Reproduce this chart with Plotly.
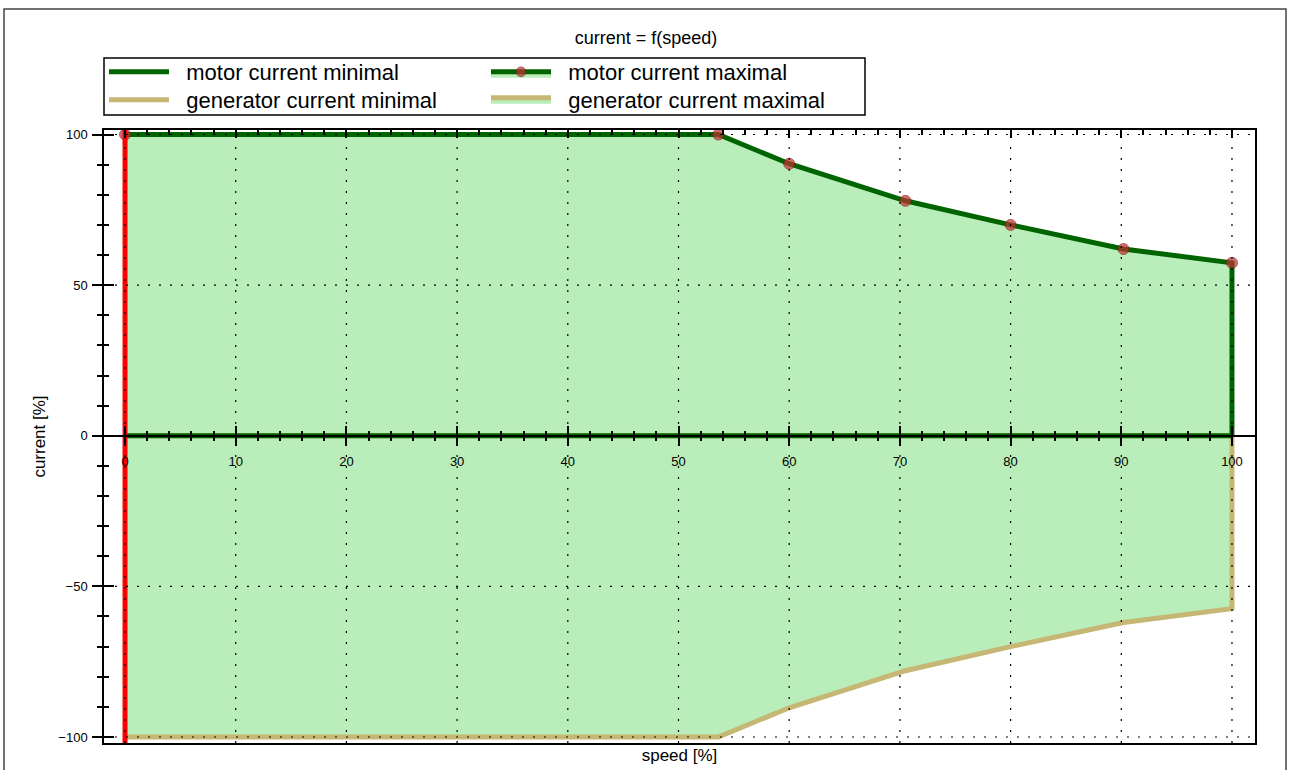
import plotly.graph_objects as go

# Current envelope as a function of speed (both in percent)
speed = [0, 53.6, 60, 70.5, 80, 90.2, 100]
motor_max = [100, 100, 90.3, 78, 70, 62, 57.4]
generator_max = [-100, -100, -90.3, -78, -70, -62, -57.4]

# the envelope closes back to zero current at full speed
close_speed = 100
close_current = 0

# minimal currents run along the zero line
min_speed = [0, 100]
motor_min = [0, 0]
generator_min = [0, 0]

# speed set point shown as a red vertical line
speed_marker = 0

# axis ticks
x_major = list(range(0, 101, 10))
x_minor = list(range(0, 101, 2))
y_major = [-100, -50, 0, 50, 100]
y_minor = list(range(-100, 101, 10))
x_range = [-1.9, 102.08]
y_range = [-102.0, 101.5]

DARK_GREEN = "#006400"
TAN = "#c6b774"
FILL_GREEN = "rgb(185,237,185)"
MARKER_RED = "#c03030"
FONT = "Liberation Sans, Arial, sans-serif"
NBSP = "\u00a0"

W, H = 1289, 770
L, R, T, B = 104, 34, 130, 27
plot_w = W - L - R
plot_h = H - T - B


def px_x(px):
    return (px - L) / plot_w


def px_y(py):
    return (H - B - py) / plot_h


fig = go.Figure()

env_x = speed + [close_speed]
fig.add_trace(go.Scatter(
    x=env_x, y=motor_max + [close_current],
    name=NBSP * 2 + "motor current maximal", legend="legend2",
    mode="lines+markers", fill="tozeroy", fillcolor=FILL_GREEN,
    line=dict(color=DARK_GREEN, width=5),
    marker=dict(color=MARKER_RED, size=[11] * len(speed) + [0],
                line=dict(color="#8a1a1a", width=1)),
))
fig.add_trace(go.Scatter(
    x=env_x, y=generator_max + [close_current],
    name=NBSP * 2 + "generator current maximal", legend="legend4",
    mode="lines", fill="tozeroy", fillcolor=FILL_GREEN,
    line=dict(color=TAN, width=5),
))
fig.add_trace(go.Scatter(
    x=min_speed, y=generator_min,
    name=NBSP * 2 + "generator current minimal", legend="legend3",
    mode="lines", line=dict(color=TAN, width=5),
))
fig.add_trace(go.Scatter(
    x=min_speed, y=motor_min,
    name=NBSP * 2 + "motor current minimal", legend="legend",
    mode="lines", line=dict(color=DARK_GREEN, width=5),
))
fig.add_trace(go.Scatter(
    x=[speed_marker, speed_marker], y=y_range,
    mode="lines", line=dict(color="#ff0000", width=5),
    showlegend=False, hoverinfo="skip",
))

# empty traces so the overlaid tick axes are drawn
for xa, ya in (("x2", "y"), ("x3", "y"), ("x4", "y"), ("x", "y2")):
    fig.add_trace(go.Scatter(x=[], y=[], xaxis=xa, yaxis=ya,
                             showlegend=False, hoverinfo="skip"))

zero_pos = (0 - y_range[0]) / (y_range[1] - y_range[0])
tick_font = dict(family=FONT, size=13, color="black")
title_font = dict(family=FONT, size=17, color="black")

common_x = dict(range=x_range, showgrid=False, zeroline=False, fixedrange=True)
common_y = dict(range=y_range, showgrid=False, zeroline=False, fixedrange=True)


def legend_at(px_left, px_mid):
    return dict(x=px_x(px_left), xanchor="left", y=px_y(px_mid), yanchor="middle",
                bgcolor="rgba(0,0,0,0)", borderwidth=0, itemwidth=60,
                font=dict(family=FONT, size=22, color="black"))


fig.update_layout(
    width=W, height=H,
    margin=dict(l=L, r=R, t=T, b=B, autoexpand=False),
    paper_bgcolor="white", plot_bgcolor="white",
    font=dict(family=FONT, color="black"),
    title=dict(text="current = f(speed)", x=646 / W, xref="container",
               y=1 - 38 / H, yref="container", xanchor="center", yanchor="middle",
               font=dict(family=FONT, size=18, color="black")),
    xaxis=dict(**common_x, showline=True, linecolor="black", linewidth=1.5,
               mirror=True, ticks="", showticklabels=False,
               title=dict(text="speed [%]", standoff=5, font=title_font)),
    xaxis2=dict(**common_x, overlaying="x", anchor="free", position=zero_pos,
                showline=True, linecolor="black", linewidth=1.5,
                tickmode="array", tickvals=x_major, ticks="outside",
                ticklen=10, tickwidth=1.5, tickcolor="black",
                minor=dict(tickmode="array", tickvals=x_minor, ticks="outside",
                           ticklen=5, tickwidth=1.5, tickcolor="black"),
                showticklabels=True, tickfont=tick_font, ticklabelstandoff=4),
    xaxis3=dict(**common_x, overlaying="x", anchor="free", position=zero_pos,
                showline=False, tickmode="array", tickvals=x_major,
                ticks="inside", ticklen=10, tickwidth=1.5, tickcolor="black",
                minor=dict(tickmode="array", tickvals=x_minor, ticks="inside",
                           ticklen=5, tickwidth=1.5, tickcolor="black"),
                showticklabels=False),
    xaxis4=dict(**common_x, overlaying="x", anchor="y", side="top",
                showline=False, tickmode="array", tickvals=x_major,
                ticks="inside", ticklen=8, tickwidth=1.5, tickcolor="black",
                minor=dict(tickmode="array", tickvals=x_minor, ticks="inside",
                           ticklen=5, tickwidth=1.5, tickcolor="black"),
                showticklabels=False),
    yaxis=dict(**common_y, showline=True, linecolor="black", linewidth=1.5,
               mirror=True, tickmode="array", tickvals=y_major,
               ticks="outside", ticklen=10, tickwidth=1.5, tickcolor="black",
               minor=dict(tickmode="array", tickvals=y_minor, ticks="outside",
                          ticklen=5, tickwidth=1.5, tickcolor="black"),
               tickfont=tick_font, ticklabelstandoff=2,
               title=dict(text="current [%]", standoff=8, font=title_font)),
    yaxis2=dict(**common_y, overlaying="y", anchor="x", side="left",
                showline=False, tickmode="array", tickvals=y_major,
                ticks="inside", ticklen=10, tickwidth=1.5, tickcolor="black",
                minor=dict(tickmode="array", tickvals=y_minor, ticks="inside",
                           ticklen=5, tickwidth=1.5, tickcolor="black"),
                showticklabels=False),
    legend=legend_at(104, 72),
    legend2=legend_at(486, 72),
    legend3=legend_at(104, 100),
    legend4=legend_at(486, 100),
    showlegend=True,
)

# dotted grid drawn on top of the filled envelope
dot = dict(color="black", width=1.2, dash="2px,9px")
for v in x_major:
    fig.add_shape(type="line", xref="x", yref="paper", x0=v, x1=v, y0=0, y1=1,
                  line=dot, layer="above")
for v in y_major:
    fig.add_shape(type="line", xref="paper", yref="y", x0=0, x1=1, y0=v, y1=v,
                  line=dot, layer="above")

# frame round the legend entries
fig.add_shape(type="rect", xref="paper", yref="paper",
              x0=0, x1=px_x(865), y0=px_y(115), y1=px_y(58),
              line=dict(color="black", width=1.5), fillcolor="rgba(0,0,0,0)")
# outer frame of the chart
fig.add_shape(type="rect", xref="paper", yref="paper",
              x0=px_x(4), x1=px_x(1286), y0=px_y(780), y1=px_y(9),
              line=dict(color="#444444", width=1.5), fillcolor="rgba(0,0,0,0)")

fig.write_html("out.html")
